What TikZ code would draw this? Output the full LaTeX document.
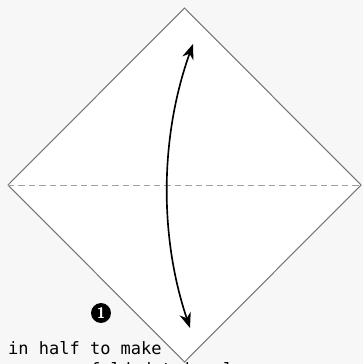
\documentclass[tikz,border=0pt]{standalone}
\usepackage{fontspec}
\setmonofont{DejaVu Sans Mono}
\usetikzlibrary{arrows.meta}
\definecolor{paperbg}{HTML}{F7F7F7}
\definecolor{edgegray}{HTML}{767676}
\definecolor{foldgray}{HTML}{A0A0A0}

\begin{document}
\begin{tikzpicture}[
    x=0.03cm, y=-0.03cm,
    paper edge/.style={draw=edgegray, line width=0.9pt, fill=white, line join=miter},
    valley fold/.style={draw=foldgray, line width=0.8pt, dash pattern=on 5.5pt off 3.4pt},
    fold arrow/.style={
        line width=1.4pt,
        {Stealth[length=13pt, width=10pt]}-{Stealth[length=13pt, width=10pt]}
    },
    step number/.style={circle, fill=black, text=white, inner sep=0pt,
        minimum size=17pt, font=\sffamily\bfseries\fontsize{13}{13}\selectfont},
    step text/.style={anchor=base west, inner sep=0pt,
        font=\ttfamily\fontsize{14.5}{17}\selectfont}
]
% page and margins
\fill[paperbg] (0,0) rectangle (363,364);
\useasboundingbox (0,0) rectangle (363,364);

% the square, turned on its corner
\coordinate (top) at (184.5,8);
\coordinate (left) at (8,185);
\coordinate (right) at (361,185);
\coordinate (bottom) at (184.5,362);

\draw[paper edge] (top) -- (right) -- (bottom) -- (left) -- cycle;
\draw[valley fold] (left) -- (right);

% fold the bottom corner up and back
\coordinate (lowtip) at (190,328);
\coordinate (hightip) at (193,44);
\coordinate (bend1) at (159,236);
\coordinate (bend2) at (160,136);
\draw[fold arrow] (lowtip) .. controls (bend1) and (bend2) .. (hightip);

% step label
\node[step number] (one) at (101,313) {1};
\begin{scope}
\clip (0,0) rectangle (363,364);
\node[step text] (line1) at (8,354) {in half to make};
\node[step text] (line2) at (8,375) {\phantom{xxxxxx}a folded triangle};
\end{scope}
\end{tikzpicture}
\end{document}
